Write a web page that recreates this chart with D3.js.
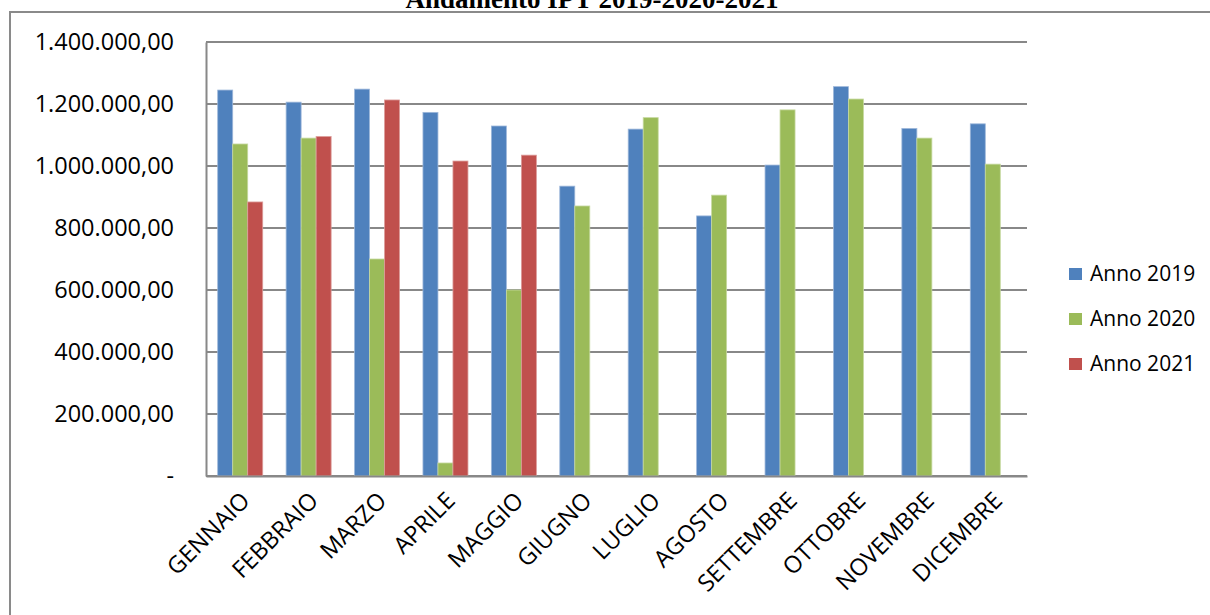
<!DOCTYPE html>
<html>
<head>
<meta charset="utf-8">
<script src="https://cdn.jsdelivr.net/npm/d3@7"></script>
<style>
    body { margin: 0; background: #fff; }
    svg text { font-family: "Open Sans", sans-serif; fill: #000; }
</style>
</head>
<body>
<svg id="chart" width="1210" height="615"></svg>
<script>
const months = ["GENNAIO", "FEBBRAIO", "MARZO", "APRILE", "MAGGIO", "GIUGNO",
    "LUGLIO", "AGOSTO", "SETTEMBRE", "OTTOBRE", "NOVEMBRE", "DICEMBRE"];
const seriesNames = ["Anno 2019", "Anno 2020", "Anno 2021"];
const anno2019 = [1245000, 1206000, 1248000, 1173000, 1129000, 935000,
    1119000, 839000, 1003000, 1256000, 1121000, 1136000];
const anno2020 = [1071000, 1090000, 700000, 42000, 600000, 871000,
    1156000, 906000, 1181000, 1216000, 1090000, 1006000];
const anno2021 = [884000, 1095000, 1213000, 1016000, 1035000];
const yTicks = [0, 200000, 400000, 600000, 800000, 1000000, 1200000, 1400000];
const colors = ["#4F81BD", "#9BBB59", "#C0504D"];
const edges = ["#9DB7DA", "#C6D9A0", "#DC9C9A"];

const svg = d3.select("#chart");
const plot = { left: 206, right: 1027, top: 42, bottom: 476 };

// outer frame and title
svg.append("rect")
    .attr("x", 10).attr("y", 12)
    .attr("width", 1300).attr("height", 700)
    .attr("fill", "none")
    .attr("stroke", "#8a8a8a")
    .attr("stroke-width", 2);

svg.append("text")
    .attr("x", 592).attr("y", 8)
    .attr("text-anchor", "middle")
    .style("font-family", "'Liberation Serif', serif")
    .style("font-weight", "bold")
    .style("font-size", "27px")
    .text("Andamento IPT 2019-2020-2021");

const x = d3.scaleBand()
    .domain(months)
    .range([plot.left, plot.right])
    .padding(0);

const xs = d3.scaleBand()
    .domain(seriesNames)
    .range([0, x.bandwidth()])
    .paddingInner(0)
    .paddingOuter(0.78);

const y = d3.scaleLinear()
    .domain([0, 1400000])
    .range([plot.bottom, plot.top]);

const fmt = (v) => v === 0 ? "-" :
    d3.format(",.2f")(v).replace(/,/g, "#").replace(".", ",").replace(/#/g, ".");

// gridlines
svg.append("g")
    .selectAll("line")
    .data(yTicks)
    .enter().append("line")
    .attr("x1", plot.left).attr("x2", plot.right)
    .attr("y1", (d) => y(d)).attr("y2", (d) => y(d))
    .attr("stroke", "#888")
    .attr("stroke-width", 2);

// y axis
const yAxis = svg.append("g")
    .attr("transform", `translate(${plot.left}, 0)`)
    .call(d3.axisLeft(y).tickValues(yTicks).tickFormat(fmt).tickSize(0).tickPadding(32));
yAxis.select(".domain").attr("stroke", "#888").attr("stroke-width", 2);
yAxis.selectAll("text").style("font-size", "23.5px").style("font-family", "'Open Sans', sans-serif");

// bars
const data = [anno2019, anno2020, anno2021];
data.forEach((vals, si) => {
    svg.append("g")
        .selectAll("rect")
        .data(vals)
        .enter().append("rect")
        .attr("x", (d, i) => x(months[i]) + xs(seriesNames[si]))
        .attr("y", (d) => y(d))
        .attr("width", xs.bandwidth())
        .attr("height", (d) => y(0) - y(d))
        .attr("fill", colors[si])
        .attr("stroke", edges[si])
        .attr("stroke-width", 0.8);
});

// x axis
const xAxis = svg.append("g")
    .attr("transform", `translate(0, ${plot.bottom})`)
    .call(d3.axisBottom(x).tickSize(0).tickPadding(0));
xAxis.select(".domain").attr("stroke", "#888").attr("stroke-width", 2);
xAxis.selectAll("text")
    .style("font-size", "23.5px")
    .style("font-family", "'Open Sans', sans-serif")
    .attr("text-anchor", "end")
    .attr("dy", 0)
    .attr("transform", "translate(11, 26) rotate(-45)");

// legend
const legend = svg.append("g")
    .selectAll("g")
    .data(seriesNames)
    .enter().append("g")
    .attr("transform", (d, i) => `translate(1069, ${274 + i * 45})`);
legend.append("rect")
    .attr("x", 0).attr("y", -6)
    .attr("width", 13).attr("height", 12)
    .attr("fill", (d, i) => colors[i]);
legend.append("text")
    .attr("x", 21).attr("y", 0)
    .attr("dy", "0.35em")
    .style("font-size", "21px")
    .text((d) => d);
</script>
</body>
</html>
